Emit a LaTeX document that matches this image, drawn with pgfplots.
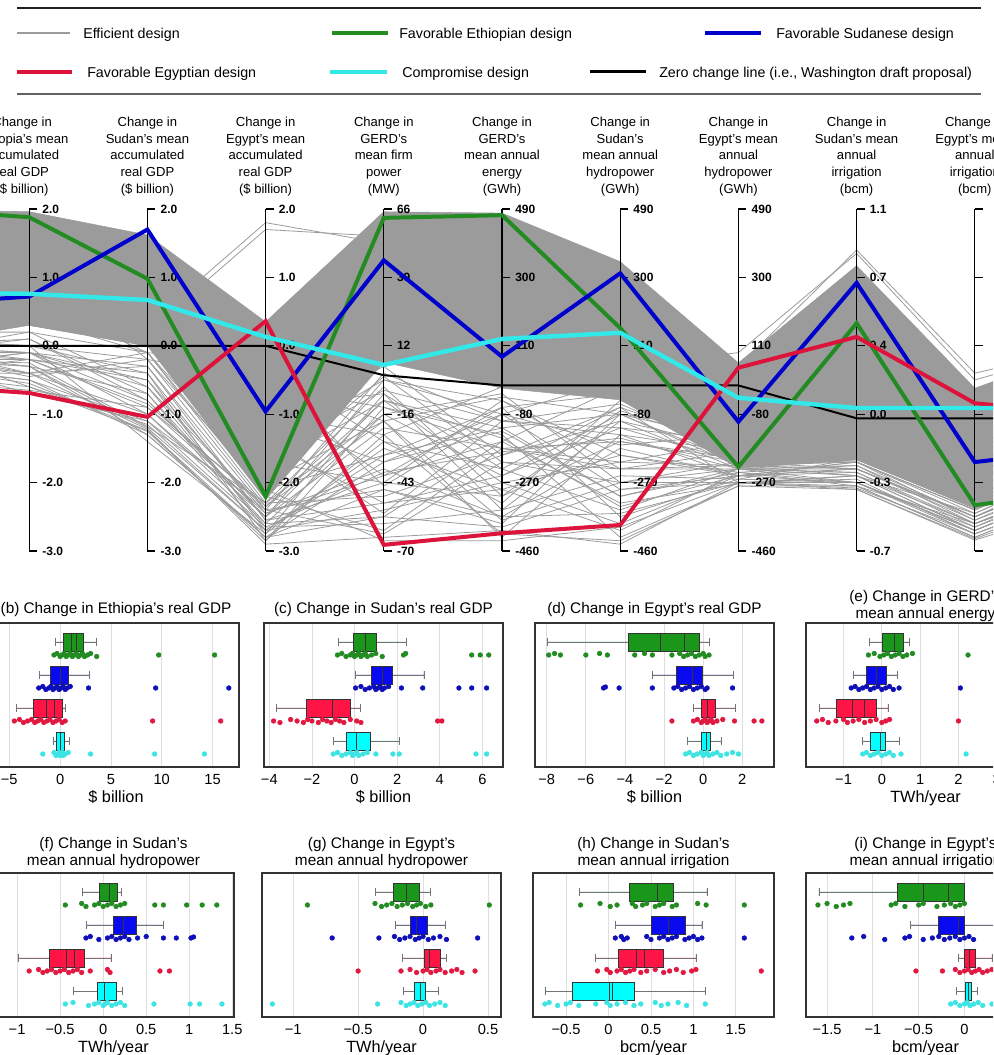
\documentclass[border=0pt]{standalone}
\usepackage{fontspec}
\setmainfont{Liberation Sans}
\usepackage{pgfplots}
\pgfplotsset{compat=1.18}
\usepgfplotslibrary{statistics}

\definecolor{cG}{RGB}{34,139,34}
\definecolor{cB}{RGB}{0,0,205}
\definecolor{cR}{RGB}{220,20,60}
\definecolor{cC}{RGB}{51,232,232}
\definecolor{cGray}{RGB}{155,155,155}
\definecolor{fG}{RGB}{26,150,26}
\definecolor{fB}{RGB}{10,10,240}
\definecolor{fR}{RGB}{255,20,70}
\definecolor{fC}{RGB}{0,255,255}
\definecolor{dG}{RGB}{34,139,34}
\definecolor{dB}{RGB}{15,15,185}
\definecolor{dR}{RGB}{225,25,65}
\definecolor{dC}{RGB}{60,228,228}

\newcommand\tickfont{\fontsize{9}{10}\selectfont\bfseries}
\newcommand\collab{\fontsize{9.8}{12.4}\selectfont}
\newcommand\legfont{\fontsize{10.7}{12}\selectfont}
\newcommand\titfont{\fontsize{11.5}{12.75}\selectfont}
\newcommand\tlfont{\fontsize{11}{12}\selectfont}
\newcommand\xlfont{\fontsize{12.2}{13}\selectfont}

\newcommand\ptick[3]{\draw[line width=0.9pt] (axis cs:#1,#2) -- ++(6pt,0) node[anchor=west, inner sep=0pt, xshift=3.5pt, font=\tickfont] {#3};}
\newcommand\pt[2]{\draw[line width=0.9pt] (axis cs:#1,#2) -- ++(6pt,0);}
\newcommand\clab[2]{\node[anchor=south, align=center, font=\collab, inner sep=0pt] at ([yshift=9.75pt]axis cs:#1,5) {#2};}
\newcommand\bx[7]{\addplot[boxplot prepared={lower whisker=#2, lower quartile=#3, median=#4, upper quartile=#5, upper whisker=#6, draw position=#7}, draw=black!80, fill=#1, line width=0.5pt] coordinates {};}
\newcommand\pts[2]{\addplot[only marks, mark=*, mark size=1.75pt, color=#1] coordinates {#2};}
\newcommand\ml[3]{\addplot[black!80, line width=0.6pt] coordinates {(#1,#2) (#1,#3)};}

\pgfplotsset{
  gl/.style={color=cGray, line width=0.6pt},
  bp/.style={scale only axis, height=108pt, ymin=0, ymax=144, ytick=\empty,
    axis line style={black!80, line width=0.8pt},
    xmajorgrids, grid style={black!13, line width=0.6pt},
    major tick length=0pt,
    tick label style={font=\tlfont},
    xticklabel style={anchor=base, yshift=-13.2pt},
    title style={font=\titfont, align=center, at={(0.5,1)}, anchor=south, inner sep=0pt, yshift=-1.25pt},
    xlabel style={font=\xlfont, at={(axis description cs:0.5,0)}, anchor=base, inner sep=0pt, yshift=-26.5pt},
    boxplot/draw direction=x,
    boxplot/box extend=18,
    boxplot/whisker extend=8,
    boxplot/every whisker/.style={draw=black!55, line width=0.5pt},
    boxplot/every median/.style={draw=black!80, line width=0.6pt},
  },
}

\begin{document}
\begin{tikzpicture}
\begin{scope}
\clip (0pt,0pt) rectangle (744.75pt,791.25pt);

% ===================== Parallel coordinates =====================
\begin{axis}[at={(-66.75pt,378pt)}, anchor=south west, scale only axis,
  width=886.5pt, height=256.5pt, xmin=0, xmax=10, ymin=0, ymax=5,
  hide axis, clip=false]
\addplot[fill=cGray, draw=cGray, line width=0.4pt] coordinates {(0,4.99)(1,4.96)(2,4.62)(3,3.35)(4,4.96)(5,4.94)(6,4.23)(7,2.75)(8,4.17)(9,2.38)(10,3.0)(10,1.0)(9,0.63)(8,1.33)(7,1.21)(6,2.21)(5,2.38)(4,2.76)(3,0.75)(2,3.0)(1,3.30)(0,3.01)(0,4.99)};
\addplot[gl] coordinates {(0,2.9)(1,2.9)(2,2.2)(3,0.5)(4,1.8)(5,1.5)(6,1.2)(7,1.2)(8,1.2)(9,0.5)(10,1.2)};
\addplot[gl] coordinates {(0,2.8)(1,2.7)(2,1.8)(3,0.3)(4,0.6)(5,1.0)(6,0.4)(7,1.1)(8,1.0)(9,0.3)(10,1.0)};
\addplot[gl] coordinates {(0,3.0)(1,2.6)(2,2.9)(3,0.7)(4,2.4)(5,0.8)(6,1.6)(7,1.3)(8,1.3)(9,0.6)(10,1.4)};
\addplot[gl] coordinates {(0,2.7)(1,2.5)(2,1.7)(3,0.2)(4,1.3)(5,2.0)(6,0.9)(7,1.0)(8,0.95)(9,0.2)(10,0.9)};
\addplot[gl] coordinates {(0,2.9)(1,3.2)(2,2.4)(3,0.6)(4,0.9)(5,0.4)(6,2.0)(7,1.25)(8,1.1)(9,0.55)(10,1.3)};
\addplot[gl] coordinates {(0,2.6)(1,2.4)(2,1.75)(3,0.15)(4,2.1)(5,1.7)(6,0.2)(7,0.95)(8,0.9)(9,0.18)(10,0.8)};
\addplot[gl] coordinates {(0,3.0)(1,2.8)(2,2.6)(3,0.45)(4,1.0)(5,2.2)(6,1.4)(7,1.15)(8,1.25)(9,0.4)(10,1.1)};
\addplot[gl] coordinates {(0,2.8)(1,2.3)(2,1.9)(3,0.35)(4,0.4)(5,0.6)(6,1.1)(7,1.05)(8,1.35)(9,0.62)(10,1.5)};
\addplot[gl] coordinates {(0,3.1)(1,3.0)(2,1.6)(3,0.25)(4,1.6)(5,1.2)(6,0.6)(7,1.2)(8,1.0)(9,0.3)(10,1.0)};
\addplot[gl] coordinates {(0,2.7)(1,2.9)(2,2.7)(3,0.6)(4,2.6)(5,1.9)(6,1.8)(7,1.3)(8,1.2)(9,0.5)(10,1.3)};
\addplot[gl] coordinates {(0,2.9)(1,2.6)(2,1.78)(3,0.1)(4,0.2)(5,0.3)(6,0.1)(7,1.0)(8,0.9)(9,0.16)(10,0.7)};
\addplot[gl] coordinates {(0,2.5)(1,2.35)(2,2.1)(3,0.55)(4,1.2)(5,0.5)(6,1.5)(7,1.1)(8,1.3)(9,0.45)(10,1.2)};
\addplot[gl] coordinates {(0,3.0)(1,3.1)(2,2.3)(3,0.4)(4,2.0)(5,2.3)(6,1.0)(7,1.2)(8,1.15)(9,0.35)(10,1.1)};
\addplot[gl] coordinates {(0,2.8)(1,2.75)(2,1.82)(3,0.7)(4,0.8)(5,1.4)(6,2.1)(7,1.0)(8,1.05)(9,0.25)(10,0.9)};
\addplot[gl] coordinates {(0,2.6)(1,2.8)(2,2.5)(3,0.3)(4,1.5)(5,0.9)(6,0.3)(7,1.15)(8,0.95)(9,0.4)(10,1.0)};
\addplot[gl] coordinates {(0,3.0)(1,2.9)(2,2.0)(3,0.5)(4,2.2)(5,1.0)(6,1.3)(7,1.25)(8,1.3)(9,0.6)(10,1.4)};
\addplot[gl] coordinates {(0,2.7)(1,2.45)(2,1.76)(3,0.2)(4,0.5)(5,1.6)(6,0.7)(7,0.98)(8,1.1)(9,0.3)(10,1.0)};
\addplot[gl] coordinates {(0,2.9)(1,2.55)(2,2.8)(3,0.65)(4,1.9)(5,0.2)(6,1.7)(7,1.1)(8,1.2)(9,0.5)(10,1.2)};
\addplot[gl] coordinates {(0,3.6)(1,3.8)(2,3.4)(3,1.5)(4,2.5)(5,2.0)(6,2.5)(7,1.8)(8,2.5)(9,1.2)(10,2.0)};
\addplot[gl] coordinates {(0,4.0)(1,4.1)(2,3.6)(3,1.2)(4,2.2)(5,1.8)(6,2.0)(7,1.6)(8,2.2)(9,1.0)(10,2.0)};
\addplot[gl] coordinates {(0,3.4)(1,3.5)(2,3.2)(3,2.0)(4,1.7)(5,2.4)(6,2.6)(7,2.0)(8,2.8)(9,1.5)(10,2.5)};
\addplot[gl] coordinates {(0,3.8)(1,4.3)(2,3.0)(3,1.8)(4,2.7)(5,1.4)(6,1.9)(7,1.5)(8,2.0)(9,0.9)(10,1.8)};
\addplot[gl] coordinates {(0,4.2)(1,4.0)(2,3.7)(3,0.9)(4,1.4)(5,2.1)(6,2.3)(7,1.7)(8,2.4)(9,1.1)(10,2.0)};
\addplot[gl] coordinates {(0,3.5)(1,3.6)(2,3.3)(3,2.3)(4,1.1)(5,1.6)(6,2.4)(7,1.9)(8,2.6)(9,1.4)(10,2.2)};
\addplot[gl] coordinates {(0,3.9)(1,3.9)(2,3.5)(3,1.4)(4,2.35)(5,1.9)(6,2.15)(7,1.4)(8,1.8)(9,0.8)(10,1.6)};
\addplot[gl] coordinates {(0,3.7)(1,3.3)(2,3.1)(3,1.6)(4,0.7)(5,1.1)(6,1.8)(7,1.6)(8,2.1)(9,1.0)(10,1.9)};
\addplot[gl] coordinates {(0,4.1)(1,4.2)(2,2.8)(3,2.5)(4,1.9)(5,2.25)(6,2.0)(7,1.75)(8,2.3)(9,1.3)(10,2.1)};
\addplot[gl] coordinates {(0,3.3)(1,3.4)(2,3.0)(3,1.1)(4,2.55)(5,1.3)(6,1.2)(7,1.45)(8,1.9)(9,0.7)(10,1.7)};
\addplot[gl] coordinates {(0,3.6)(1,3.7)(2,2.9)(3,2.7)(4,1.6)(5,0.7)(6,2.2)(7,1.55)(8,2.7)(9,1.45)(10,2.4)};
\addplot[gl] coordinates {(0,3.2)(1,3.2)(2,2.9)(3,0.8)(4,0.3)(5,1.5)(6,1.6)(7,1.35)(8,1.6)(9,0.75)(10,1.5)};
\addplot[gl] coordinates {(0,4.5)(1,4.6)(2,3.3)(3,4.8)(4,4.5)(5,4.1)(6,2.8)(7,2.7)(8,4.4)(9,2.6)(10,3.0)};
\addplot[gl] coordinates {(0,4.4)(1,4.5)(2,3.2)(3,4.7)(4,4.6)(5,4.0)(6,2.7)(7,2.9)(8,4.35)(9,2.5)(10,3.0)};
\addplot[gl] coordinates {(0,2.8)(1,2.6)(2,2.0)(3,0.4)(4,0.5)(5,0.35)(6,0.9)(7,1.1)(8,1.15)(9,0.4)(10,1.0)};
\addplot[gl] coordinates {(0,3.0)(1,2.9)(2,2.5)(3,0.55)(4,1.1)(5,2.1)(6,0.5)(7,1.05)(8,1.0)(9,0.35)(10,1.0)};
\addplot[gl] coordinates {(0,2.9)(1,2.7)(2,2.3)(3,0.25)(4,2.3)(5,0.6)(6,1.9)(7,1.2)(8,1.25)(9,0.5)(10,1.2)};
\addplot[gl] coordinates {(0,2.7)(1,2.5)(2,1.9)(3,0.6)(4,0.25)(5,1.3)(6,1.0)(7,1.0)(8,1.1)(9,0.3)(10,1.0)};
\addplot[gl] coordinates {(0,3.1)(1,3.0)(2,2.6)(3,0.15)(4,1.7)(5,0.25)(6,0.15)(7,0.95)(8,0.95)(9,0.2)(10,0.9)};
\addplot[gl] coordinates {(0,2.8)(1,2.8)(2,2.1)(3,0.7)(4,2.0)(5,1.1)(6,2.0)(7,1.3)(8,1.3)(9,0.55)(10,1.3)};
\addplot[gl] coordinates {(0,3.0)(1,2.4)(2,1.85)(3,0.3)(4,1.4)(5,1.8)(6,0.8)(7,1.15)(8,1.0)(9,0.3)(10,1.0)};
\addplot[gl] coordinates {(0,2.6)(1,2.6)(2,2.7)(3,0.45)(4,0.7)(5,0.9)(6,1.4)(7,1.1)(8,1.2)(9,0.45)(10,1.1)};
\addplot[gl] coordinates {(0,2.9)(1,3.1)(2,2.2)(3,0.5)(4,2.5)(5,2.2)(6,1.2)(7,1.25)(8,1.2)(9,0.5)(10,1.2)};
\addplot[gl] coordinates {(0,2.8)(1,2.7)(2,1.7)(3,0.2)(4,0.9)(5,0.5)(6,0.55)(7,1.0)(8,0.92)(9,0.25)(10,0.9)};
\addplot[gl] coordinates {(0,3.3)(1,3.5)(2,3.1)(3,1.3)(4,1.0)(5,0.8)(6,2.05)(7,1.5)(8,1.6)(9,0.8)(10,1.5)};
\addplot[gl] coordinates {(0,3.5)(1,3.4)(2,2.9)(3,1.0)(4,1.9)(5,0.45)(6,1.0)(7,1.3)(8,1.5)(9,0.7)(10,1.4)};
\addplot[gl] coordinates {(0,3.2)(1,3.3)(2,3.0)(3,1.7)(4,0.55)(5,1.9)(6,1.7)(7,1.45)(8,1.8)(9,0.9)(10,1.7)};
\addplot[gl] coordinates {(0,3.4)(1,3.6)(2,3.2)(3,2.1)(4,2.3)(5,1.2)(6,2.1)(7,1.5)(8,2.0)(9,1.0)(10,1.8)};
\addplot[gl] coordinates {(0,3.6)(1,3.7)(2,3.4)(3,1.9)(4,1.3)(5,1.75)(6,0.8)(7,1.2)(8,1.7)(9,0.8)(10,1.6)};
\addplot[gl] coordinates {(0,3.0)(1,3.0)(2,2.8)(3,0.9)(4,0.15)(5,0.15)(6,0.35)(7,1.0)(8,1.0)(9,0.25)(10,0.9)};
\addplot[gl] coordinates {(0,2.7)(1,2.9)(2,2.4)(3,0.35)(4,1.15)(5,1.45)(6,1.65)(7,1.2)(8,1.1)(9,0.4)(10,1.1)};
\addplot[gl] coordinates {(0,2.9)(1,2.8)(2,2.15)(3,0.65)(4,2.2)(5,1.65)(6,0.65)(7,1.1)(8,1.3)(9,0.6)(10,1.3)};
\addplot[gl] coordinates {(0,3.8)(1,3.9)(2,3.3)(3,2.4)(4,2.1)(5,1.5)(6,1.3)(7,1.6)(8,2.2)(9,1.1)(10,2.0)};
\addplot[gl] coordinates {(0,3.9)(1,4.0)(2,3.5)(3,2.6)(4,0.95)(5,2.0)(6,1.55)(7,1.7)(8,2.5)(9,1.25)(10,2.2)};

\pgfplotsinvokeforeach{1,...,9}{\draw[line width=0.9pt] (axis cs:#1,0) -- (axis cs:#1,5);}
\ptick{1}{5}{2.0}\ptick{1}{4}{1.0}\ptick{1}{3}{0.0}\ptick{1}{2}{-1.0}\ptick{1}{1}{-2.0}\ptick{1}{0}{-3.0}
\ptick{2}{5}{2.0}\ptick{2}{4}{1.0}\ptick{2}{3}{0.0}\ptick{2}{2}{-1.0}\ptick{2}{1}{-2.0}\ptick{2}{0}{-3.0}
\ptick{3}{5}{2.0}\ptick{3}{4}{1.0}\ptick{3}{3}{0.0}\ptick{3}{2}{-1.0}\ptick{3}{1}{-2.0}\ptick{3}{0}{-3.0}
\ptick{4}{5}{66}\ptick{4}{4}{39}\ptick{4}{3}{12}\ptick{4}{2}{-16}\ptick{4}{1}{-43}\ptick{4}{0}{-70}
\ptick{5}{5}{490}\ptick{5}{4}{300}\ptick{5}{3}{110}\ptick{5}{2}{-80}\ptick{5}{1}{-270}\ptick{5}{0}{-460}
\ptick{6}{5}{490}\ptick{6}{4}{300}\ptick{6}{3}{110}\ptick{6}{2}{-80}\ptick{6}{1}{-270}\ptick{6}{0}{-460}
\ptick{7}{5}{490}\ptick{7}{4}{300}\ptick{7}{3}{110}\ptick{7}{2}{-80}\ptick{7}{1}{-270}\ptick{7}{0}{-460}
\ptick{8}{5}{1.1}\ptick{8}{4}{0.7}\ptick{8}{3}{0.4}\ptick{8}{2}{0.0}\ptick{8}{1}{-0.3}\ptick{8}{0}{-0.7}
\pt{9}{5}\pt{9}{4}\pt{9}{3}\pt{9}{2}\pt{9}{1}\pt{9}{0}
\clab{0.94}{Change in\\Ethiopia's mean\\accumulated\\real GDP\\(\$ billion)}
\clab{2}{Change in\\Sudan's mean\\accumulated\\real GDP\\(\$ billion)}
\clab{3}{Change in\\Egypt's mean\\accumulated\\real GDP\\(\$ billion)}
\clab{4}{Change in\\GERD's\\mean firm\\power\\(MW)}
\clab{5}{Change in\\GERD's\\mean annual\\energy\\(GWh)}
\clab{6}{Change in\\Sudan's\\mean annual\\hydropower\\(GWh)}
\clab{7}{Change in\\Egypt's mean\\annual\\hydropower\\(GWh)}
\clab{8}{Change in\\Sudan's mean\\annual\\irrigation\\(bcm)}
\clab{9}{Change in\\Egypt's mean\\annual\\irrigation\\(bcm)}

\addplot[black, line width=1.5pt] coordinates {(0,3.0)(1,3.0)(2,3.0)(3,3.0)(4,2.57)(5,2.42)(6,2.42)(7,2.42)(8,1.94)(9,1.94)(10,1.94)};
\addplot[cG, line width=3pt] coordinates {(0,5.0)(1,4.88)(2,3.98)(3,0.8)(4,4.87)(5,4.91)(6,3.26)(7,1.23)(8,3.33)(9,0.67)(10,0.9)};
\addplot[cB, line width=3pt] coordinates {(0,3.6)(1,3.72)(2,4.7)(3,2.04)(4,4.25)(5,2.84)(6,4.06)(7,1.89)(8,3.92)(9,1.30)(10,1.5)};
\addplot[cR, line width=3pt] coordinates {(0,2.43)(1,2.31)(2,1.96)(3,3.36)(4,0.09)(5,0.26)(6,0.38)(7,2.68)(8,3.13)(9,2.16)(10,2.0)};
\addplot[cC, line width=3.3pt] coordinates {(0,3.78)(1,3.76)(2,3.67)(3,3.13)(4,2.72)(5,3.1)(6,3.19)(7,2.24)(8,2.09)(9,2.09)(10,2.09)};
\end{axis}

% ===================== Row 1 box plots =====================
\begin{axis}[bp, at={(-5.25pt,216pt)}, anchor=south west, width=184.5pt,
  xmin=-6.6, xmax=17.6, xtick={-5,0,5,10,15}, xticklabels={−5,0,5,10,15},
  title={(b) Change in Ethiopia's real GDP}, xlabel={\$ billion}]
\bx{fG}{-0.5}{0.33}{1.08}{2.3}{3.6}{125} \ml{1.64}{116}{134}
\bx{fB}{-2.0}{-1.0}{0}{0.82}{2.86}{92}
\bx{fR}{-4.3}{-2.6}{-1.3}{0.23}{0.5}{59} \ml{-0.6}{50}{68}
\bx{fC}{-0.7}{-0.4}{0}{0.4}{0.9}{26}
\pts{dG}{(-0.6,112)(-0.3,113.5)(0,110.5)(0.2,112)(0.4,113.5)(0.6,110.5)(0.8,112)(1.0,113.5)(1.2,110.5)(1.4,112)(1.6,113.5)(1.8,110.5)(2.0,112)(2.2,113.5)(2.4,110.5)(2.7,112)(3.0,113.5)(3.6,110.5)(9.7,112)(15.2,112)}
\pts{dB}{(-2.1,79)(-1.7,80.5)(-1.4,77.5)(-1.1,79)(-0.9,80.5)(-0.7,77.5)(-0.5,79)(-0.3,80.5)(-0.1,77.5)(0.1,79)(0.3,80.5)(0.5,77.5)(0.7,79)(1.0,80.5)(2.8,79)(9.4,79)(16.6,79)}
\pts{dR}{(-4.5,46)(-4.0,47.5)(-3.6,44.5)(-3.2,46)(-2.8,47.5)(-2.5,44.5)(-2.2,46)(-1.9,47.5)(-1.6,44.5)(-1.3,46)(-1.0,47.5)(-0.7,44.5)(-0.4,46)(-0.1,47.5)(0.2,44.5)(0.5,46)(9.1,46)(15.8,46)}
\pts{dC}{(-1.7,13)(-0.6,14.5)(-0.4,11.5)(-0.2,13)(-0.1,14.5)(0,11.5)(0.1,13)(0.2,14.5)(0.3,11.5)(0.5,13)(0.8,14.5)(3.0,13)(9.3,13)(14.2,13)}
\end{axis}

\begin{axis}[bp, at={(198pt,216pt)}, anchor=south west, width=179.25pt,
  xmin=-4.25, xmax=6.97, xtick={-4,-2,0,2,4,6}, xticklabels={−4,−2,0,2,4,6},
  title={(c) Change in Sudan's real GDP}, xlabel={\$ billion}]
\bx{fG}{-0.76}{-0.05}{0.5}{1.0}{2.42}{125}
\bx{fB}{0.05}{0.77}{1.3}{1.77}{3.26}{92}
\bx{fR}{-3.65}{-2.24}{-1.04}{-0.18}{0.26}{59}
\bx{fC}{-1.0}{-0.37}{0.1}{0.73}{2.09}{26}
\pts{dG}{(-0.8,112)(-0.6,113.5)(-0.4,110.5)(-0.2,112)(-0.1,113.5)(0,110.5)(0.1,112)(0.2,113.5)(0.3,110.5)(0.4,112)(0.5,113.5)(0.6,110.5)(0.8,112)(1.0,113.5)(1.3,110.5)(2.3,112)(2.4,113.5)(5.5,112)(5.9,112)(6.3,112)}
\pts{dB}{(0.05,79)(0.3,80.5)(0.5,77.5)(0.7,79)(0.9,80.5)(1.0,77.5)(1.1,79)(1.2,80.5)(1.3,77.5)(1.4,79)(1.6,80.5)(2.2,79)(3.2,79)(4.9,79)(5.5,79)(6.2,79)}
\pts{dR}{(-3.8,46)(-3.5,44.5)(-3.0,47.5)(-2.7,46)(-2.4,44.5)(-2.2,47.5)(-2.0,46)(-1.7,44.5)(-1.5,47.5)(-1.3,46)(-1.1,44.5)(-0.9,47.5)(-0.7,46)(-0.5,44.5)(-0.2,47.5)(0.1,46)(0.3,44.5)(3.9,46)(4.1,46)}
\pts{dC}{(-1.0,13)(-0.8,14.5)(-0.6,11.5)(-0.4,13)(-0.2,14.5)(-0.1,11.5)(0,13)(0.1,14.5)(0.2,11.5)(0.4,13)(0.6,14.5)(1.0,13)(1.8,13)(2.1,13)(5.7,13)(6.2,13)}
\end{axis}

\begin{axis}[bp, at={(401.25pt,216pt)}, anchor=south west, width=179.25pt,
  xmin=-8.6, xmax=3.62, xtick={-8,-6,-4,-2,0,2}, xticklabels={−8,−6,−4,−2,0,2},
  title={(d) Change in Egypt's real GDP}, xlabel={\$ billion}]
\bx{fG}{-7.97}{-3.83}{-2.2}{-0.2}{0.3}{125} \ml{-0.97}{116}{134}
\bx{fB}{-2.6}{-1.35}{-0.54}{-0.05}{1.54}{92}
\bx{fR}{-0.5}{-0.08}{0.23}{0.6}{1.63}{59}
\bx{fC}{-0.79}{-0.11}{0.14}{0.35}{0.91}{26}
\pts{dG}{(-7.9,112)(-7.6,113.5)(-7.3,112)(-6.0,112)(-5.3,113.5)(-4.9,112)(-3.5,112)(-3.0,113.5)(-2.6,112)(-1.6,112)(-1.2,113.5)(-1.0,110.5)(-0.8,112)(-0.6,113.5)(-0.4,110.5)(-0.2,112)(0,113.5)(0.1,110.5)(0.3,112)}
\pts{dB}{(-5.1,79)(-5.0,80)(-4.3,79)(-2.6,79)(-1.5,79)(-1.3,80.5)(-1.1,77.5)(-0.9,79)(-0.7,80.5)(-0.5,77.5)(-0.3,79)(-0.1,80.5)(0.1,77.5)(0.2,79)(1.5,79)}
\pts{dR}{(-1.6,46)(-0.5,46)(-0.3,47.5)(-0.1,44.5)(0,46)(0.1,47.5)(0.2,44.5)(0.3,46)(0.4,47.5)(0.5,44.5)(0.7,46)(1.0,47.5)(1.6,46)(2.6,46)(3.0,46)}
\pts{dC}{(-0.9,13)(-0.7,14.5)(-0.5,11.5)(-0.3,13)(-0.1,14.5)(0,11.5)(0.1,13)(0.2,14.5)(0.3,11.5)(0.5,13)(0.7,14.5)(0.9,11.5)(1.2,13)(1.5,14.5)(1.8,13)}
\end{axis}

\begin{axis}[bp, at={(604.5pt,216pt)}, anchor=south west, width=179.25pt,
  xmin=-1.98, xmax=4.26, xtick={-1,0,1,2,3,4}, xticklabels={−1,0,1,2,3,4},
  title={(e) Change in GERD's\\mean annual energy}, title style={yshift=-4pt}, xlabel={TWh/year}]
\bx{fG}{-0.33}{0.02}{0.32}{0.56}{0.71}{125}
\bx{fB}{-0.74}{-0.41}{-0.15}{0.11}{0.41}{92}
\bx{fR}{-1.64}{-1.18}{-0.78}{-0.15}{0.16}{59} \ml{-0.46}{50}{68}
\bx{fC}{-0.51}{-0.31}{-0.04}{0.09}{0.46}{26}
\pts{dG}{(-0.35,112)(-0.2,113.5)(-0.05,110.5)(0.05,112)(0.15,113.5)(0.25,110.5)(0.35,112)(0.45,113.5)(0.55,110.5)(0.65,112)(0.8,113.5)(2.25,112)}
\pts{dB}{(-0.8,79)(-0.7,80.5)(-0.6,77.5)(-0.5,79)(-0.4,80.5)(-0.3,77.5)(-0.2,79)(-0.1,80.5)(0,77.5)(0.1,79)(0.2,80.5)(0.3,77.5)(0.45,79)(2.05,79)}
\pts{dR}{(-1.7,46)(-1.55,47.5)(-1.4,44.5)(-1.2,46)(-1.0,47.5)(-0.9,44.5)(-0.75,46)(-0.6,47.5)(-0.45,44.5)(-0.3,46)(-0.15,47.5)(0,44.5)(0.1,46)(0.2,47.5)(2.0,46)}
\pts{dC}{(-0.5,13)(-0.4,14.5)(-0.3,11.5)(-0.2,13)(-0.1,14.5)(0,11.5)(0.1,13)(0.2,14.5)(0.3,11.5)(0.5,13)(2.2,13)}
\end{axis}

% ===================== Row 2 box plots =====================
\begin{axis}[bp, at={(-5.25pt,28.5pt)}, anchor=south west, width=180.75pt,
  xmin=-1.28, xmax=1.52, xtick={-1,-0.5,0,0.5,1,1.5}, xticklabels={−1,−0.5,0,0.5,1,1.5},
  title={(f) Change in Sudan's\\mean annual hydropower}, title style={yshift=-2pt}, xlabel={TWh/year}]
\bx{fG}{-0.24}{-0.04}{0.07}{0.17}{0.21}{125}
\bx{fB}{-0.19}{0.12}{0.23}{0.39}{0.7}{92}
\bx{fR}{-0.99}{-0.62}{-0.43}{-0.22}{0.09}{59} \ml{-0.33}{50}{68}
\bx{fC}{-0.35}{-0.07}{0.01}{0.15}{0.22}{26}
\pts{dG}{(-0.44,112)(-0.25,113.5)(-0.2,110.5)(-0.1,112)(-0.05,113.5)(0,110.5)(0.05,112)(0.1,113.5)(0.15,110.5)(0.2,112)(0.25,113.5)(0.6,112)(0.7,112)(0.97,112)(1.15,112)(1.32,112)}
\pts{dB}{(-0.2,79)(-0.15,80.5)(-0.05,77.5)(0.05,79)(0.1,80.5)(0.15,77.5)(0.2,79)(0.25,80.5)(0.3,77.5)(0.4,79)(0.5,80.5)(0.7,79)(0.85,79)(1.02,79)(1.05,80)}
\pts{dR}{(-0.86,46)(-0.75,47.5)(-0.7,44.5)(-0.65,46)(-0.6,47.5)(-0.55,44.5)(-0.5,46)(-0.45,47.5)(-0.4,44.5)(-0.35,46)(-0.3,47.5)(-0.25,44.5)(-0.15,46)(0.05,47.5)(0.08,44.5)(0.66,46)(0.77,46)}
\pts{dC}{(-0.44,13)(-0.35,14.5)(-0.17,11.5)(-0.1,13)(-0.05,14.5)(0,11.5)(0.02,13)(0.05,14.5)(0.1,11.5)(0.15,13)(0.2,14.5)(0.25,11.5)(0.59,13)(1.01,13)(1.12,13)(1.38,13)}
\end{axis}

\begin{axis}[bp, at={(196.5pt,28.5pt)}, anchor=south west, width=179.25pt,
  xmin=-1.24, xmax=0.6, xtick={-1,-0.5,0,0.5}, xticklabels={−1,−0.5,0,0.5},
  title={(g) Change in Egypt's\\mean annual hydropower}, title style={yshift=-2pt}, xlabel={TWh/year}]
\bx{fG}{-0.37}{-0.23}{-0.13}{-0.03}{0.055}{125}
\bx{fB}{-0.21}{-0.1}{-0.05}{0.03}{0.17}{92}
\bx{fR}{-0.16}{0.01}{0.05}{0.13}{0.18}{59}
\bx{fC}{-0.15}{-0.07}{-0.02}{0.02}{0.12}{26}
\pts{dG}{(-0.89,112)(-0.37,113.5)(-0.32,110.5)(-0.28,112)(-0.24,113.5)(-0.2,110.5)(-0.16,112)(-0.12,113.5)(-0.08,110.5)(-0.05,112)(-0.02,113.5)(0.02,110.5)(0.06,112)(0.51,112)}
\pts{dB}{(-0.7,79)(-0.34,79)(-0.22,80.5)(-0.18,77.5)(-0.14,79)(-0.1,80.5)(-0.06,77.5)(-0.03,79)(0,80.5)(0.04,77.5)(0.08,79)(0.13,80.5)(0.18,77.5)(0.42,79)}
\pts{dR}{(-0.5,46)(-0.17,46)(-0.1,47.5)(-0.05,44.5)(0,46)(0.03,47.5)(0.06,44.5)(0.1,46)(0.13,47.5)(0.17,44.5)(0.22,46)(0.26,47.5)(0.3,44.5)(0.4,46)}
\pts{dC}{(-1.16,13)(-0.35,13)(-0.17,14.5)(-0.13,11.5)(-0.1,13)(-0.07,14.5)(-0.04,11.5)(-0.01,13)(0.02,14.5)(0.05,11.5)(0.09,13)(0.13,14.5)(0.17,11.5)}
\end{axis}

\begin{axis}[bp, at={(399.75pt,28.5pt)}, anchor=south west, width=180.75pt,
  xmin=-0.89, xmax=1.95, xtick={-0.5,0,0.5,1,1.5}, xticklabels={−0.5,0,0.5,1,1.5},
  title={(h) Change in Sudan's\\mean annual irrigation}, title style={yshift=-2pt}, xlabel={bcm/year}]
\bx{fG}{-0.34}{0.25}{0.57}{0.76}{1.16}{125}
\bx{fB}{0.08}{0.5}{0.71}{0.9}{1.1}{92}
\bx{fR}{-0.15}{0.12}{0.33}{0.64}{1.03}{59} \ml{0.42}{50}{68}
\bx{fC}{-0.75}{-0.43}{0.01}{0.3}{1.14}{26} \ml{0.05}{17}{35}
\pts{dG}{(-0.33,112)(-0.1,113.5)(0.02,110.5)(0.1,112)(0.28,113.5)(0.32,110.5)(0.4,112)(0.45,113.5)(0.55,110.5)(0.6,112)(0.65,113.5)(0.75,110.5)(0.8,112)(1.05,113.5)(1.15,112)(1.6,112)}
\pts{dB}{(0.08,79)(0.15,80.5)(0.18,77.5)(0.22,79)(0.45,80.5)(0.5,77.5)(0.6,79)(0.65,80.5)(0.7,77.5)(0.75,79)(0.8,80.5)(0.9,77.5)(0.95,79)(1.0,80.5)(1.05,77.5)(1.1,79)(1.6,79)}
\pts{dR}{(-0.13,46)(-0.02,47.5)(0.02,44.5)(0.1,46)(0.15,47.5)(0.2,44.5)(0.25,46)(0.3,47.5)(0.38,44.5)(0.45,46)(0.55,47.5)(0.65,44.5)(0.72,46)(0.8,47.5)(0.88,44.5)(0.98,46)(1.03,47.5)(1.8,46)}
\pts{dC}{(-0.75,13)(-0.7,14.5)(-0.6,11.5)(-0.5,13)(-0.45,14.5)(-0.35,11.5)(-0.15,13)(-0.02,14.5)(0.02,11.5)(0.1,13)(0.2,14.5)(0.3,11.5)(0.38,13)(0.55,14.5)(0.62,11.5)(0.7,13)(0.82,14.5)(0.92,11.5)(1.14,13)}
\end{axis}

\begin{axis}[bp, at={(604.5pt,28.5pt)}, anchor=south west, width=179.25pt,
  xmin=-1.73, xmax=0.88, xtick={-1.5,-1,-0.5,0,0.5}, xticklabels={−1.5,−1,−0.5,0,0.5},
  title={(i) Change in Egypt's\\mean annual irrigation}, title style={yshift=-2pt}, xlabel={bcm/year}]
\bx{fG}{-1.59}{-0.73}{-0.45}{0.0}{0.0}{125} \ml{-0.18}{116}{134}
\bx{fB}{-0.59}{-0.29}{-0.07}{0.0}{0.35}{92}
\bx{fR}{-0.07}{0.0}{0.05}{0.12}{0.3}{59}
\bx{fC}{-0.09}{0.01}{0.04}{0.07}{0.14}{26}
\pts{dG}{(-1.6,112)(-1.5,113.5)(-1.4,110.5)(-1.32,112)(-1.25,113.5)(-0.8,112)(-0.75,113.5)(-0.65,110.5)(-0.5,112)(-0.45,113.5)(-0.3,110.5)(-0.22,112)(-0.15,113.5)(-0.1,110.5)(-0.05,112)(0,113.5)}
\pts{dB}{(-1.23,79)(-1.1,80.5)(-0.87,77.5)(-0.65,79)(-0.6,80.5)(-0.45,77.5)(-0.35,79)(-0.28,80.5)(-0.22,77.5)(-0.16,79)(-0.1,80.5)(-0.05,77.5)(0,79)(0.05,80.5)(0.1,77.5)}
\pts{dR}{(-0.53,46)(-0.24,46)(-0.1,47.5)(-0.05,44.5)(0,46)(0.04,47.5)(0.08,44.5)(0.12,46)(0.16,47.5)(0.2,44.5)(0.25,46)(0.3,47.5)}
\pts{dC}{(-0.15,13)(-0.1,14.5)(-0.05,11.5)(0,13)(0.03,14.5)(0.06,11.5)(0.1,13)(0.15,14.5)(0.2,11.5)(0.3,13)(0.4,14.5)}
\end{axis}

% ===================== Legend =====================
\begin{scope}[x=0.75pt,y=0.75pt]
\draw[line width=1.6pt, black!88] (17,1047) -- (981,1047);
\draw[line width=1.4pt, black!62] (17,961) -- (981,961);
\draw[cGray, line width=2.2pt] (17,1022) -- (70,1022);
\node[anchor=base west, font=\legfont, inner sep=0pt] at (83,1016.7) {Efficient design};
\draw[cG, line width=3pt] (332,1022) -- (388,1022);
\node[anchor=base west, font=\legfont, inner sep=0pt] at (399,1016.7) {Favorable Ethiopian design};
\draw[cB, line width=3pt] (705,1022) -- (761,1022);
\node[anchor=base west, font=\legfont, inner sep=0pt] at (776,1016.7) {Favorable Sudanese design};
\draw[cR, line width=3pt] (17,983.3) -- (72,983.3);
\node[anchor=base west, font=\legfont, inner sep=0pt] at (87,977.7) {Favorable Egyptian design};
\draw[cC, line width=3pt] (330,983.3) -- (387,983.3);
\node[anchor=base west, font=\legfont, inner sep=0pt] at (402,977.7) {Compromise design};
\draw[black, line width=2.6pt] (590,983.3) -- (646,983.3);
\node[anchor=base west, font=\legfont, inner sep=0pt] at (659,977.7) {Zero change line (i.e., Washington draft proposal)};
\end{scope}
\end{scope}

\pgfresetboundingbox
\useasboundingbox (0pt,0pt) rectangle (744.75pt,791.25pt);
\end{tikzpicture}
\end{document}
